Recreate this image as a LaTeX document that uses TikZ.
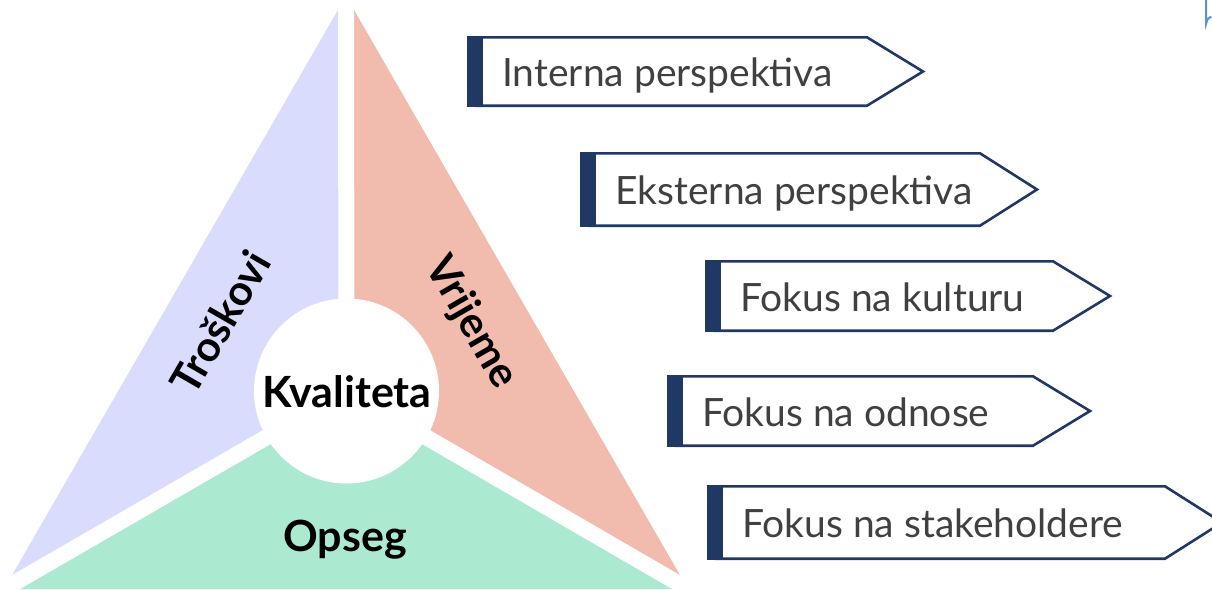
\documentclass[tikz,border=0pt]{standalone}
\usepackage{fontspec}
\setmainfont{Lato}
\usetikzlibrary{calc}
\definecolor{costF}{HTML}{D9DCFC}
\definecolor{timeF}{HTML}{F1BCAE}
\definecolor{scopeF}{HTML}{ABE9D1}
\definecolor{navy}{HTML}{1F3864}
\definecolor{boxtext}{HTML}{404040}
\definecolor{edgeblue}{HTML}{5B8FE0}
\tikzset{
  gap/.style={white, line width=16pt},
  trilabel/.style={font=\bfseries\fontsize{42}{42}\selectfont, text=black, inner sep=0pt},
  boxlabel/.style={font=\fontsize{39}{39}\selectfont, text=boxtext, inner sep=0pt, anchor=base west},
  boxedge/.style={navy, line width=2.6pt, line join=miter},
}
\newcommand\sigbox[7]{%
  \fill[navy] (#2,#3) rectangle (#2+16,#4);
  \draw[boxedge] (#2+8,#3+1.3) -- (#5,#3+1.3) -- (#6,{(#3+#4)/2}) -- (#5,#4-1.3) -- (#2+8,#4-1.3);
  \node[boxlabel] (#1) at (#2+35,{(#3+#4)/2+15}) {#7};
}
\begin{document}
\begin{tikzpicture}[x=1pt,y=-1pt]
\useasboundingbox (0,0) rectangle (1212,589);
\clip (0,0) rectangle (1212,589);
\coordinate (A) at (346,-4);
\coordinate (L) at (4,589);
\coordinate (R) at (688,589);
\coordinate (C) at (346.5,391);
\fill[costF] (A) -- (L) -- (C) -- cycle;
\fill[timeF] (A) -- (R) -- (C) -- cycle;
\fill[scopeF] (L) -- (R) -- (C) -- cycle;
\draw[gap] (C) -- (A);
\draw[gap] (C) -- ($(C)!1.1!(L)$);
\draw[gap] (C) -- ($(C)!1.1!(R)$);
\node[circle, fill=white, minimum size=185pt, inner sep=0pt] (kval) at (C) {};
\node[trilabel, font=\bfseries\fontsize{43}{43}\selectfont] (kvaltext) at (347,392) {Kvaliteta};
\node[trilabel, rotate=60] (tros) at (220,322) {Troškovi};
\node[trilabel, rotate=-60] (vrij) at (471,323) {Vrijeme};
\node[trilabel, font=\bfseries\fontsize{43}{43}\selectfont] (opseg) at (345,540) {Opseg};
\sigbox{b1}{467}{36}{107}{867}{923}{Interna perspektiva}
\sigbox{b2}{580}{152}{227}{980}{1037}{Eksterna perspektiva}
\sigbox{b3}{705}{260}{332}{1053}{1110}{Fokus na kulturu}
\sigbox{b4}{667}{375}{447}{1033}{1090}{Fokus na odnose}
\sigbox{b5}{707}{485}{560}{1165}{1222}{Fokus na stakeholdere}
\draw[edgeblue, line width=2pt] (1206,0) -- (1206,24) arc[start angle=180, end angle=250, radius=8];
\end{tikzpicture}
\end{document}
